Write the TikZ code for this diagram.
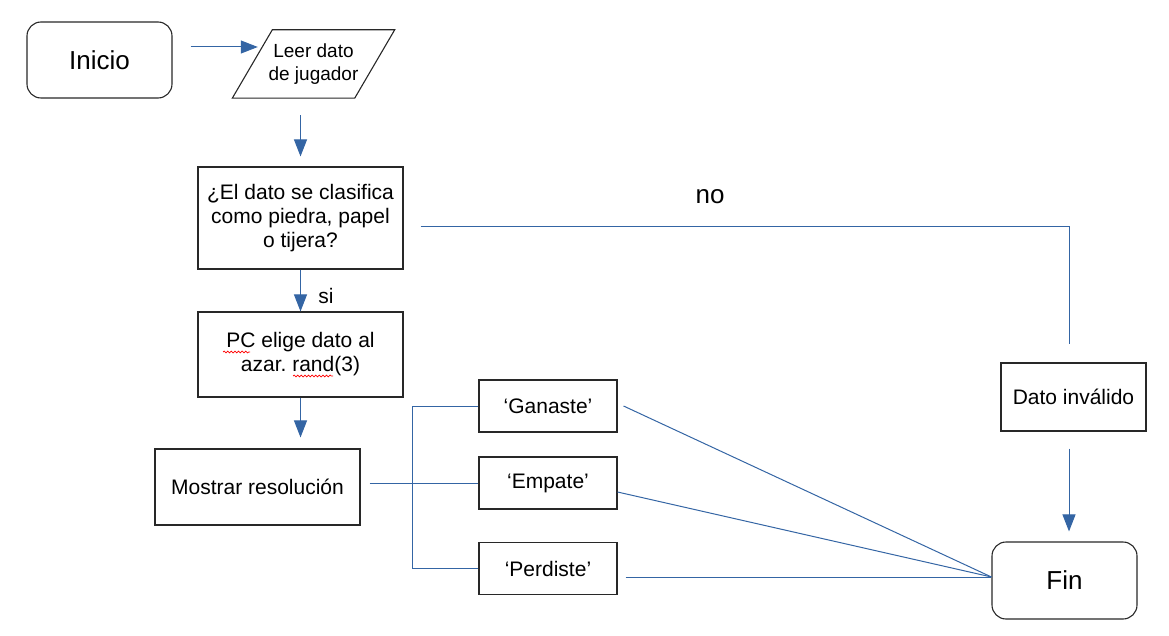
\documentclass[tikz,border=0pt]{standalone}
\usepackage{fontspec}
\setmainfont{Liberation Sans}
\usetikzlibrary{arrows.meta,calc,decorations.pathmorphing}
\definecolor{lnblue}{RGB}{52,101,164}
\definecolor{bordr}{RGB}{40,40,40}
\frenchspacing
\begin{document}
\begin{tikzpicture}[x=1pt,y=-1pt,
  box/.style={draw=bordr,line width=1.1pt,rectangle,inner sep=0pt,align=center,font=\fontsize{21}{24}\selectfont},
  rbox/.style={box,rounded corners=14pt,font=\fontsize{26}{30}\selectfont},
  conn/.style={draw=lnblue,line width=1pt},
  arr/.style={conn,-{Triangle[length=17pt,width=13pt]}},
  lbl/.style={inner sep=0pt,font=\fontsize{21}{24}\selectfont},
  wavy/.style={draw=red,line width=0.7pt,decorate,decoration={snake,amplitude=0.9pt,segment length=3.6pt}}]
\useasboundingbox (0,0) rectangle (1169,636);

% nodes
\node[rbox,minimum width=145pt,minimum height=76pt] (inicio) at (99.5,60) {Inicio};
\node[inner sep=0pt,minimum width=122pt,minimum height=68pt,align=center,font=\fontsize{19}{23}\selectfont] (leer) at (313.5,64) {Leer dato\\de jugador};
\draw[draw=bordr,line width=1.1pt] ([xshift=20pt]leer.north west) -- ([xshift=20pt]leer.north east) -- ([xshift=-20pt]leer.south east) -- ([xshift=-20pt]leer.south west) -- cycle;
\node[box,minimum width=205pt,minimum height=102pt] (q) at (300.5,218) {¿El dato se clasifica\\como piedra, papel\\o tijera?};
\node[box,minimum width=205pt,minimum height=85pt] (pc) at (300.5,354.5) {PC elige dato al\\azar. rand(3)};
\node[box,minimum width=205pt,minimum height=76pt] (mr) at (257.5,487) {Mostrar resolución};
\node[box,minimum width=138pt,minimum height=52pt] (gan) at (548,406) {‘Ganaste’};
\node[box,minimum width=138pt,minimum height=52pt] (emp) at (548,483) {‘Empate’};
\node[box,minimum width=138pt,minimum height=52pt] (per) at (548,568.5) {‘Perdiste’};
\node[box,minimum width=145pt,minimum height=68pt] (dato) at (1073.5,397) {Dato inválido};
\node[rbox,minimum width=145pt,minimum height=77pt] (fin) at (1064.5,580.5) {Fin};
\node[lbl] (si) at (326,296) {si};
\node[inner sep=0pt,font=\fontsize{26}{30}\selectfont] (no) at (710,197) {no};

% spell-check marks
\draw[wavy] (223,352) -- (250,352);
\draw[wavy] (293,376) -- (333,376);

% connectors
\draw[arr] ($(inicio.east)+(18,-13)$) -- ($(leer.west)+(5.5,-17)$);
\draw[arr] ($(q.north |- leer.south)+(0,17)$) -- ($(q.north)+(0,-10)$);
\draw[arr] (q.south) -- (pc.north);
\draw[arr,shorten >=11pt] (pc.south) -- (pc.south |- mr.north);
\draw[conn] ($(mr.east |- emp.west)+(9,0)$) -- (emp.west);
\draw[conn] (gan.west) -| ($(mr.east)+(52,0)$) |- (per.west);
\coordinate (conv) at ($(fin.west)+(0,-3.5)$);
\draw[conn] ($(gan.east)+(6,0)$) -- (conv);
\draw[conn] ($(emp.east)+(0,9)$) -- (conv);
\draw[conn] ($(per.east |- conv)+(8,0)$) -- (conv);
\draw[conn] ($(q.east)+(17,9)$) -| ($(dato.north)+(-4.5,-18)$);
\draw[arr] ($(dato.south)+(-4.5,17)$) -- ($(fin.north)+(4.5,-10)$);
\end{tikzpicture}
\end{document}
